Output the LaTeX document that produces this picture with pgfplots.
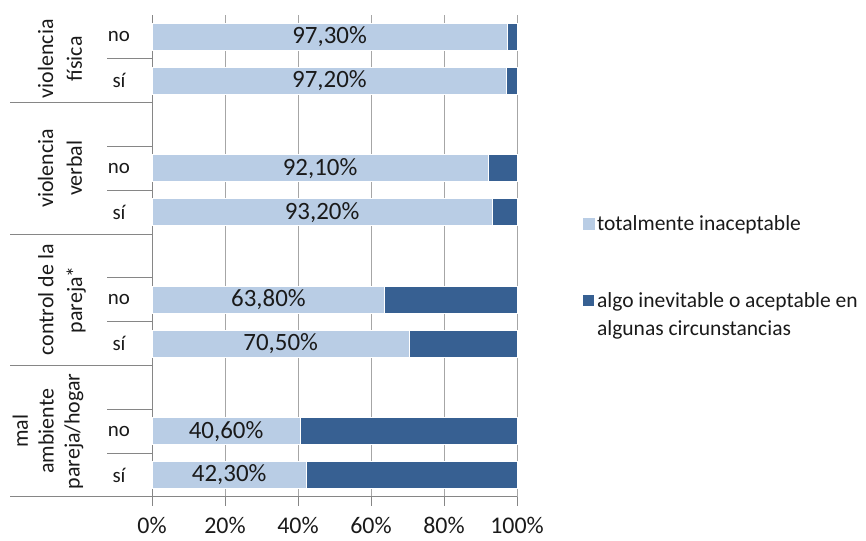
\documentclass[border=0pt]{standalone}
\usepackage{pgfplots}
\pgfplotsset{compat=1.18}
\usepackage{fontspec}
\setmainfont{Carlito}
\definecolor{lightb}{HTML}{B9CDE5}
\definecolor{darkb}{HTML}{376092}
\definecolor{lgray}{HTML}{A6A6A6}
\definecolor{agray}{HTML}{868686}
\definecolor{txt}{HTML}{1A1A1A}
\begin{document}
\begin{tikzpicture}[x=1bp,y=1bp]
\useasboundingbox (0,0) rectangle (866,541);
\begin{axis}[
  at={(152bp,44bp)}, anchor=south west,
  scale only axis, width=365bp, height=482bp,
  xbar stacked, bar width=27bp,
  xmin=0, xmax=100, ymin=0, ymax=11,
  xtick={0,20,40,60,80,100},
  xticklabel={\pgfmathprintnumber{\tick}\%},
  /pgf/number format/assume math mode=true,
  ytick={10.5,9.5,7.5,6.5,4.5,3.5,1.5,0.5},
  yticklabels={no,sí,no,sí,no,sí,no,sí},
  axis x line*=bottom, axis y line*=left,
  axis line style={agray, line width=1bp, -},
  xmajorgrids, grid style={lgray, line width=1bp},
  x tick style={agray, line width=1bp},
  xtick align=outside, major tick length=9bp,
  y tick style={draw=none},
  xticklabel style={font=\fontsize{24}{28}\selectfont, text=txt, yshift=-8bp},
  yticklabel style={font=\fontsize{21}{25}\selectfont, text=txt, anchor=center, xshift=-33bp},
  clip=false,
  legend style={at={(1.170,0.592)}, anchor=north west, draw=none, fill=none,
    font=\fontsize{21.6}{28}\selectfont, text=txt, row sep=56bp,
    cells={align=left, anchor=west}},
  legend image code/.code={\path[#1, draw=none] (0bp,-6bp) rectangle (12bp,6bp);},
]
\addplot[fill=lightb, draw=white, line width=0.8bp] coordinates {(97.3,10.5) (97.2,9.5) (92.1,7.5) (93.2,6.5) (63.8,4.5) (70.5,3.5) (40.6,1.5) (42.3,0.5)};
\addplot[fill=darkb, draw=white, line width=0.8bp,
  legend image code/.code={\path[fill=darkb] (0bp,8bp) rectangle (12bp,20bp);}] coordinates {(2.7,10.5) (2.8,9.5) (7.9,7.5) (6.8,6.5) (36.2,4.5) (29.5,3.5) (59.4,1.5) (57.7,0.5)};
\legend{totalmente inaceptable, {algo inevitable o aceptable en\\algunas circunstancias}}
\draw[agray, line width=1bp] (axis cs:0,9) -- ++(-142bp,0);
\draw[agray, line width=1bp] (axis cs:0,6) -- ++(-142bp,0);
\draw[agray, line width=1bp] (axis cs:0,3) -- ++(-142bp,0);
\draw[agray, line width=1bp] (axis cs:0,0) -- ++(-142bp,0);
\draw[agray, line width=1bp] (axis cs:0,10) -- ++(-45bp,0);
\draw[agray, line width=1bp] (axis cs:0,8) -- ++(-45bp,0);
\draw[agray, line width=1bp] (axis cs:0,7) -- ++(-45bp,0);
\draw[agray, line width=1bp] (axis cs:0,5) -- ++(-45bp,0);
\draw[agray, line width=1bp] (axis cs:0,4) -- ++(-45bp,0);
\draw[agray, line width=1bp] (axis cs:0,2) -- ++(-45bp,0);
\draw[agray, line width=1bp] (axis cs:0,1) -- ++(-45bp,0);
\node[rotate=90, align=center, font=\fontsize{22}{29}\selectfont, text=txt] at ([xshift=-92bp]axis cs:0,10) {violencia\\física};
\node[rotate=90, align=center, font=\fontsize{22}{29}\selectfont, text=txt] at ([xshift=-92bp]axis cs:0,7.5) {violencia\\verbal};
\node[rotate=90, align=center, font=\fontsize{22}{29}\selectfont, text=txt] at ([xshift=-90bp]axis cs:0,4.5) {control de la\\pareja*};
\node[rotate=90, align=center, font=\fontsize{22}{26}\selectfont, text=txt] at ([xshift=-104bp]axis cs:0,1.5) {mal\\ambiente\\pareja/hogar};
\end{axis}
\begin{axis}[
  at={(152bp,44bp)}, anchor=south west,
  scale only axis, width=365bp, height=482bp,
  xmin=0, xmax=100, ymin=0, ymax=11, hide axis, clip=false,
]
\addplot[only marks, mark=none, nodes near coords, point meta=explicit symbolic,
  every node near coord/.append style={anchor=center, font=\fontsize{25}{28}\selectfont, text=txt}]
  table[x=x, y=y, meta=lab] {
x y lab
48.65 10.5 97,30\%
48.6 9.5 97,20\%
46.05 7.5 92,10\%
46.6 6.5 93,20\%
31.9 4.5 63,80\%
35.25 3.5 70,50\%
20.3 1.5 40,60\%
21.15 0.5 42,30\%
};
\end{axis}
\end{tikzpicture}
\end{document}
